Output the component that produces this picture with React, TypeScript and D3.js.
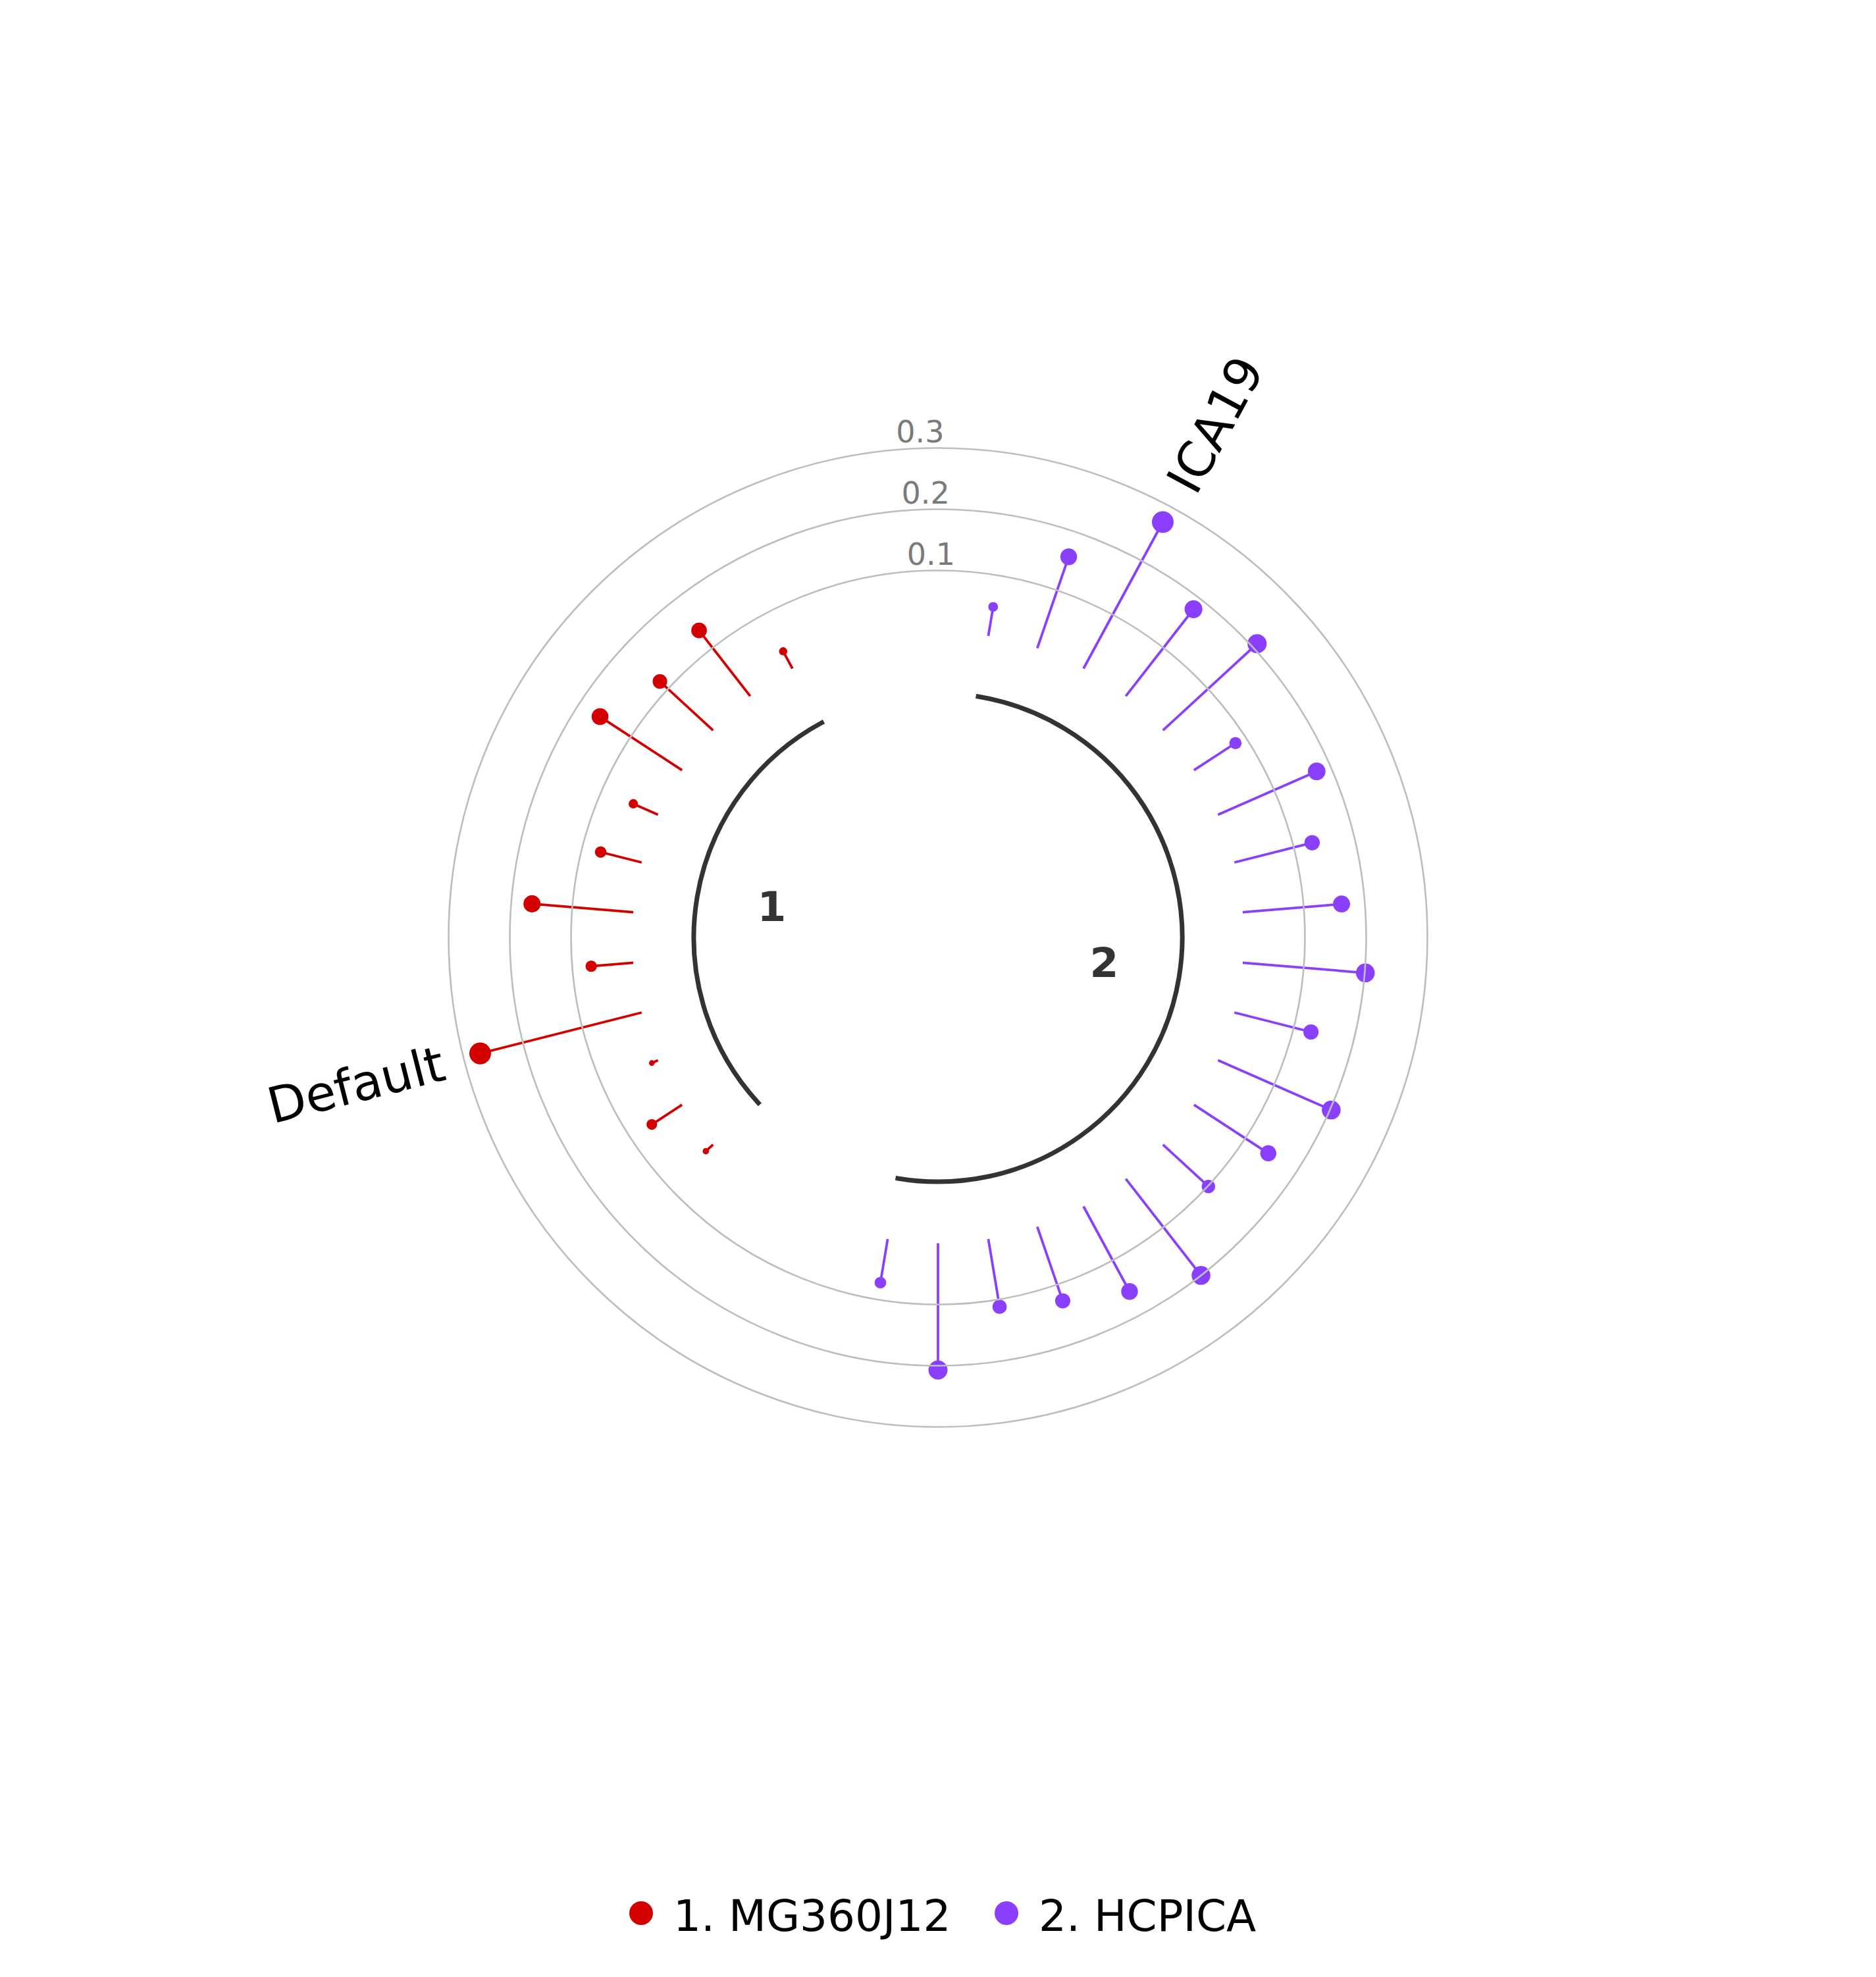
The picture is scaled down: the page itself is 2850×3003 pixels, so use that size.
import React, { useRef, useEffect } from "react";
import * as d3 from "d3";

const width = 2850;
const height = 3003;

// groups
const groupIds = ["1", "2"];
const groupNames = ["1. MG360J12", "2. HCPICA"];
const groupColors = ["#d40000", "#8a3ffc"];

// group 1 values, clockwise (lower left -> top left)
const mg360j12Values = [
  0.016, 0.059, 0.011, 0.272, 0.069, 0.166, 0.069, 0.044, 0.16, 0.118, 0.136,
  0.032,
];
// group 2 values, clockwise (top -> bottom)
const hcpicaValues = [
  0.048, 0.158, 0.272, 0.18, 0.209, 0.081, 0.176, 0.131, 0.162, 0.201, 0.129,
  0.202, 0.145, 0.101, 0.2, 0.158, 0.128, 0.112, 0.207, 0.072,
];

// grid rings
const ringTicks = [0.1, 0.2, 0.3];
const ringTickLabels = ["0.1", "0.2", "0.3"];

// named points (group index, position in group, text)
const pointLabels = [
  { group: 0, index: 3, text: "Default" },
  { group: 1, index: 2, text: "ICA19" },
];

function App() {
  const svgRef = useRef(null);

  useEffect(() => {
    const svg = d3.select(svgRef.current);
    svg.selectAll("*").remove();

    const cx = 1425;
    const cy = 1424;
    const font = "DejaVu Sans, sans-serif";

    // build the slot list: 1 gap, group 2, 3 gaps, group 1, 2 gaps
    const slots = [];
    slots.push(null);
    hcpicaValues.forEach((v, i) => slots.push({ group: 1, index: i, value: v }));
    d3.range(3).forEach(() => slots.push(null));
    mg360j12Values.forEach((v, i) => slots.push({ group: 0, index: i, value: v }));
    d3.range(2).forEach(() => slots.push(null));

    const angle = d3
      .scaleBand()
      .domain(d3.range(slots.length))
      .range([0, 2 * Math.PI]);

    const rScale = d3.scaleLinear().domain([0, 0.3]).range([464.5, 743.5]);
    // dot area grows with value
    const areaScale = d3.scaleLinear().domain([0, 0.3]).range([8, 300]);
    const dotR = (v) => Math.sqrt(areaScale(v));

    const points = slots
      .map((s, k) => (s ? { ...s, a: angle(k) } : null))
      .filter((d) => d);

    const px = (a, r) => cx + r * Math.sin(a);
    const py = (a, r) => cy - r * Math.cos(a);

    const g = svg.append("g");

    // stems
    g.selectAll(".stem")
      .data(points)
      .join("line")
      .attr("class", "stem")
      .attr("x1", (d) => px(d.a, rScale(0)))
      .attr("y1", (d) => py(d.a, rScale(0)))
      .attr("x2", (d) => px(d.a, rScale(d.value)))
      .attr("y2", (d) => py(d.a, rScale(d.value)))
      .attr("stroke", (d) => groupColors[d.group])
      .attr("stroke-width", 3.8);

    // dots
    g.selectAll(".dot")
      .data(points)
      .join("circle")
      .attr("class", "dot")
      .attr("cx", (d) => px(d.a, rScale(d.value)))
      .attr("cy", (d) => py(d.a, rScale(d.value)))
      .attr("r", (d) => dotR(d.value))
      .attr("fill", (d) => groupColors[d.group]);

    // group arcs + group labels
    const groups = groupIds.map((id, gi) => {
      const gp = points.filter((p) => p.group === gi);
      const a0 = d3.min(gp, (p) => p.a);
      const a1 = d3.max(gp, (p) => p.a);
      return { id, a0, a1 };
    });

    g.selectAll(".garc")
      .data(groups)
      .join("path")
      .attr("class", "garc")
      .attr("d", (d) => {
        const p = d3.path();
        p.arc(cx, cy, 371, d.a0 - Math.PI / 2, d.a1 - Math.PI / 2);
        return p.toString();
      })
      .attr("fill", "none")
      .attr("stroke", "#333333")
      .attr("stroke-width", 7)
      .attr("stroke-linecap", "square");

    g.selectAll(".glabel")
      .data(groups)
      .join("text")
      .attr("class", "glabel")
      .attr("x", (d) => px((d.a0 + d.a1) / 2, 256))
      .attr("y", (d) => py((d.a0 + d.a1) / 2, 256) - 4)
      .attr("text-anchor", "middle")
      .attr("dominant-baseline", "central")
      .attr("font-family", font)
      .attr("font-weight", "bold")
      .attr("font-size", 63)
      .attr("fill", "#333333")
      .text((d) => d.id);

    // grid rings (drawn over the marks)
    g.selectAll(".ring")
      .data(ringTicks)
      .join("circle")
      .attr("class", "ring")
      .attr("cx", cx)
      .attr("cy", cy)
      .attr("r", (d) => rScale(d))
      .attr("fill", "none")
      .attr("stroke", "#bdbdbd")
      .attr("stroke-width", 2.6);

    g.selectAll(".ringlabel")
      .data(ringTicks)
      .join("text")
      .attr("class", "ringlabel")
      .attr("x", (d) => cx + 39 - 0.089 * rScale(d))
      .attr("y", (d) => cy - rScale(d) - 9)
      .attr("text-anchor", "middle")
      .attr("font-family", font)
      .attr("font-size", 46)
      .attr("fill", "#7a7a7a")
      .text((d, i) => ringTickLabels[i]);

    // point labels, rotated along the radius
    const labelled = pointLabels.map((l) => {
      const p = points.find((q) => q.group === l.group && q.index === l.index);
      return { ...l, p };
    });
    g.selectAll(".plabel")
      .data(labelled)
      .join("text")
      .attr("class", "plabel")
      .attr("transform", (d) => {
        const r = rScale(d.p.value) + dotR(d.p.value) + 41;
        const deg = (d.p.a * 180) / Math.PI;
        const rot = deg > 180 ? deg - 270 : deg - 90;
        return `translate(${px(d.p.a, r)},${py(d.p.a, r)}) rotate(${rot})`;
      })
      .attr("text-anchor", (d) => (d.p.a > Math.PI ? "end" : "start"))
      .attr("dominant-baseline", "central")
      .attr("font-family", font)
      .attr("font-size", 75)
      .attr("fill", "#000000")
      .text((d) => d.text);

    // legend
    const legend = svg
      .append("g")
      .selectAll(".legend")
      .data(groupNames)
      .join("g")
      .attr("class", "legend")
      .attr("transform", (d, i) => `translate(${974 + i * 555},2906)`);
    legend
      .append("circle")
      .attr("r", 18)
      .attr("fill", (d, i) => groupColors[i]);
    legend
      .append("text")
      .attr("x", 49)
      .attr("y", 27)
      .attr("font-family", font)
      .attr("font-size", 66)
      .attr("fill", "#000000")
      .text((d) => d);
  }, []);

  return (
    <div style={{ position: "absolute", left: 0, top: 0 }}>
      <svg
        ref={svgRef}
        width={width}
        height={height}
        style={{ display: "block", background: "#ffffff" }}
      />
    </div>
  );
}

export default App;
